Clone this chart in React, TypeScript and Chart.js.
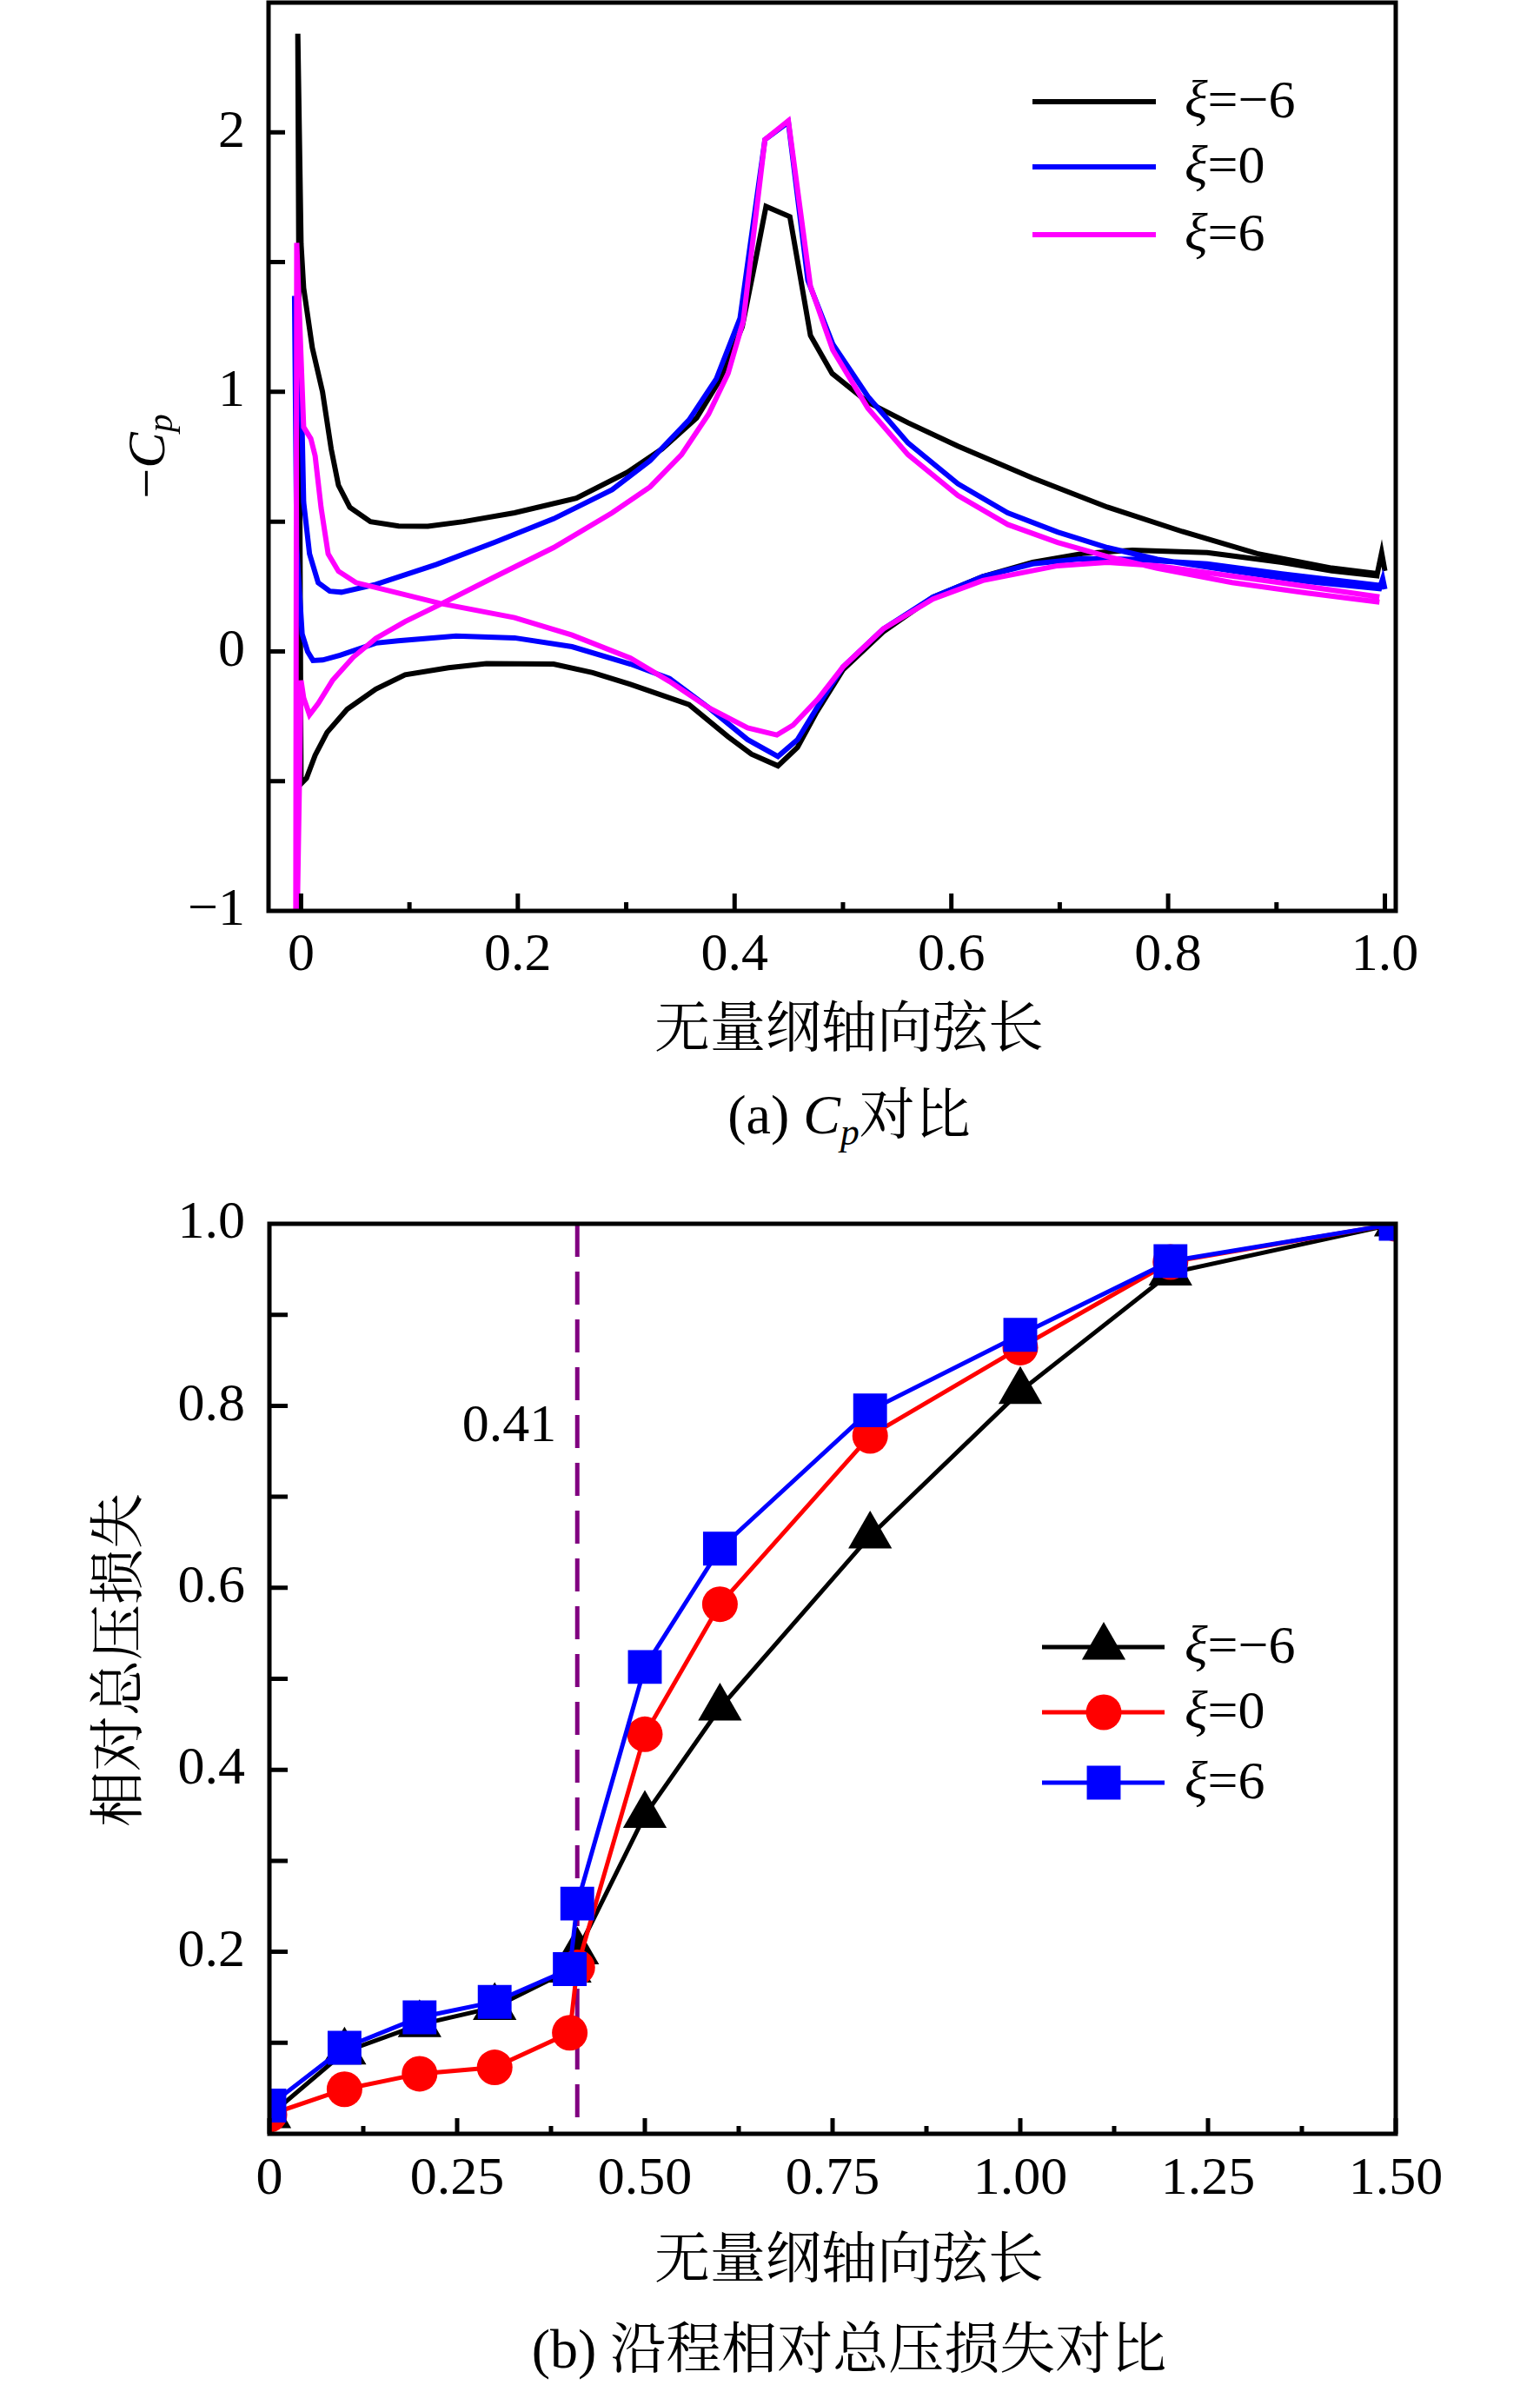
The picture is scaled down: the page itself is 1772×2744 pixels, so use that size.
import React, { useEffect, useRef } from 'react';
import { Chart, registerables } from 'chart.js';

Chart.register(...registerables);

const SERIF = '"Liberation Serif", "Times New Roman", "Noto Serif CJK SC", "Noto Sans CJK SC", serif';

// ---------------- Chart (a): Cp distributions ----------------
const seriesNames = ['−6', '0', '6'];

// ξ = −6 (black)
const cpNeg6Suction: number[][] = [
  [-0.003, 2.38], [0.0, 1.57], [0.0024, 1.4], [0.0104, 1.17], [0.0198, 1.0], [0.0278, 0.78],
  [0.0345, 0.64], [0.045, 0.555], [0.064, 0.5], [0.09, 0.483], [0.117, 0.482], [0.15, 0.5],
  [0.197, 0.534], [0.254, 0.59], [0.301, 0.69], [0.333, 0.78], [0.365, 0.9], [0.387, 1.05],
  [0.407, 1.25], [0.419, 1.5], [0.429, 1.715], [0.451, 1.675], [0.47, 1.217], [0.49, 1.071],
  [0.523, 0.96], [0.56, 0.881], [0.606, 0.791], [0.675, 0.668], [0.744, 0.556], [0.813, 0.462],
  [0.882, 0.377], [0.951, 0.321], [0.993, 0.3], [0.997, 0.38], [1.0, 0.31],
];
const cpNeg6Pressure: number[][] = [
  [0.0, -0.51], [0.005, -0.489], [0.013, -0.4], [0.024, -0.312], [0.0425, -0.223], [0.069, -0.145],
  [0.096, -0.09], [0.136, -0.063], [0.171, -0.047], [0.233, -0.049], [0.269, -0.082], [0.304, -0.127],
  [0.358, -0.205], [0.394, -0.329], [0.4156, -0.396], [0.44, -0.441], [0.458, -0.37], [0.475, -0.239],
  [0.5, -0.071], [0.537, 0.075], [0.583, 0.209], [0.629, 0.288], [0.675, 0.343], [0.721, 0.377],
  [0.767, 0.39], [0.836, 0.381], [0.905, 0.343], [0.951, 0.31], [0.995, 0.29],
];

// ξ = 0 (blue)
const cpZeroSuction: number[][] = [
  [-0.006, 1.37], [0.001, 0.853], [0.0024, 0.575], [0.0078, 0.376], [0.0158, 0.265], [0.0265, 0.232],
  [0.0372, 0.228], [0.069, 0.258], [0.125, 0.335], [0.179, 0.421], [0.233, 0.511], [0.287, 0.623],
  [0.322, 0.735], [0.358, 0.892], [0.383, 1.049], [0.405, 1.284], [0.428, 1.972], [0.4496, 2.039],
  [0.4676, 1.43], [0.4906, 1.184], [0.523, 0.982], [0.56, 0.803], [0.606, 0.646], [0.652, 0.534],
  [0.698, 0.46], [0.744, 0.4], [0.79, 0.355], [0.859, 0.31], [0.928, 0.269], [0.995, 0.242],
  [0.998, 0.28], [1.0, 0.24],
];
const cpZeroPressure: number[][] = [
  [-0.004, 0.4], [0.001, 0.067], [0.006, 0.0], [0.011, -0.035], [0.02, -0.033], [0.036, -0.015],
  [0.069, 0.032], [0.0895, 0.041], [0.143, 0.059], [0.197, 0.052], [0.25, 0.018], [0.304, -0.049],
  [0.34, -0.105], [0.376, -0.217], [0.412, -0.34], [0.44, -0.405], [0.458, -0.34], [0.481, -0.183],
  [0.5, -0.06], [0.537, 0.086], [0.583, 0.209], [0.629, 0.288], [0.675, 0.337], [0.721, 0.357],
  [0.767, 0.355], [0.836, 0.337], [0.905, 0.299], [0.995, 0.254],
];

// ξ = 6 (magenta)
const cpSixSuction: number[][] = [
  [-0.005, -1.4], [0.0, -0.112], [0.0024, -0.179], [0.0078, -0.245], [0.016, -0.2], [0.029, -0.112],
  [0.048, -0.023], [0.069, 0.05], [0.096, 0.115], [0.128, 0.18], [0.179, 0.288], [0.233, 0.4],
  [0.287, 0.534], [0.322, 0.634], [0.351, 0.758], [0.376, 0.914], [0.394, 1.071], [0.408, 1.273],
  [0.428, 1.972], [0.4496, 2.045], [0.47, 1.407], [0.4906, 1.161], [0.523, 0.937], [0.56, 0.758],
  [0.606, 0.601], [0.652, 0.489], [0.698, 0.42], [0.744, 0.365], [0.79, 0.32], [0.859, 0.265],
  [0.928, 0.225], [0.995, 0.19],
];
const cpSixPressure: number[][] = [
  [-0.004, 1.574], [0.0024, 0.864], [0.009, 0.82], [0.013, 0.753], [0.0185, 0.553], [0.025, 0.376],
  [0.0345, 0.309], [0.0506, 0.265], [0.0827, 0.232], [0.128, 0.185], [0.197, 0.13], [0.25, 0.063],
  [0.304, -0.026], [0.34, -0.116], [0.376, -0.217], [0.412, -0.295], [0.439, -0.322], [0.454, -0.284],
  [0.477, -0.183], [0.5, -0.06], [0.537, 0.086], [0.583, 0.202], [0.629, 0.273], [0.698, 0.33],
  [0.744, 0.343], [0.79, 0.33], [0.859, 0.29], [0.928, 0.25], [0.995, 0.21],
];

const cpXTicks = [0, 0.2, 0.4, 0.6, 0.8, 1.0];
const cpXTickLabels = ['0', '0.2', '0.4', '0.6', '0.8', '1.0'];
const cpXMinor = [0.1, 0.3, 0.5, 0.7, 0.9];
const cpYTicks = [-1, 0, 1, 2];
const cpYTickLabels = ['−1', '0', '1', '2'];
const cpYMarks = [-0.5, 0, 0.5, 1, 1.5, 2];

// ---------------- Chart (b): relative total pressure loss ----------------
const lossX = [0, 0.1, 0.2, 0.3, 0.4, 0.41, 0.5, 0.6, 0.8, 1.0, 1.2, 1.5];
const lossNeg6 = [0.02, 0.09, 0.12, 0.139, 0.18, 0.2, 0.35, 0.468, 0.657, 0.816, 0.946, 1.0];
const loss0 = [0.021, 0.049, 0.066, 0.073, 0.111, 0.183, 0.439, 0.582, 0.767, 0.864, 0.958, 1.0];
const loss6 = [0.031, 0.0945, 0.128, 0.145, 0.181, 0.253, 0.513, 0.643, 0.795, 0.878, 0.959, 1.0];
const markLineX = 0.41;
const markLineLabel = '0.41';

const lossXTicks = [0, 0.25, 0.5, 0.75, 1.0, 1.25, 1.5];
const lossXTickLabels = ['0', '0.25', '0.50', '0.75', '1.00', '1.25', '1.50'];
const lossXMinor = [0.125, 0.375, 0.625, 0.875, 1.125, 1.375];
const lossYTicks = [0.2, 0.4, 0.6, 0.8, 1.0];
const lossYTickLabels = ['0.2', '0.4', '0.6', '0.8', '1.0'];
const lossYMarks = [0.1, 0.2, 0.3, 0.4, 0.5, 0.6, 0.7, 0.8, 0.9];

// ---------------- helpers ----------------
const loopPath = (suction: number[][], pressure: number[][]) =>
  [...suction.slice().reverse(), ...pressure].map(([x, y]) => ({ x, y }));

type Part = { t: string; size: number; italic?: boolean; dy?: number };
function fontOf(p: Part) {
  return `${p.italic ? 'italic ' : ''}${p.size}px ${SERIF}`;
}
function drawRich(ctx: CanvasRenderingContext2D, parts: Part[], x: number, y: number, align: 'left' | 'center' | 'right') {
  ctx.textBaseline = 'middle';
  ctx.textAlign = 'left';
  const widths = parts.map((p) => {
    ctx.font = fontOf(p);
    return ctx.measureText(p.t).width;
  });
  const total = widths.reduce((a, b) => a + b, 0);
  let cx = align === 'center' ? x - total / 2 : align === 'right' ? x - total : x;
  parts.forEach((p, i) => {
    ctx.font = fontOf(p);
    ctx.fillText(p.t, cx, y + (p.dy || 0));
    cx += widths[i];
  });
}
function drawMarker(ctx: CanvasRenderingContext2D, style: string, x: number, y: number, r: number, color: string) {
  ctx.fillStyle = color;
  ctx.beginPath();
  if (style === 'triangle') {
    const a = (2 * Math.PI) / 3;
    ctx.moveTo(x, y - r);
    ctx.lineTo(x + Math.sin(a) * r, y - Math.cos(a) * r);
    ctx.lineTo(x + Math.sin(2 * a) * r, y - Math.cos(2 * a) * r);
  } else if (style === 'circle') {
    ctx.arc(x, y, r, 0, Math.PI * 2);
  } else {
    const s = r * Math.SQRT1_2;
    ctx.rect(x - s, y - s, 2 * s, 2 * s);
  }
  ctx.closePath();
  ctx.fill();
}

function framePlugin(o: { xMajor: number[]; xMinor: number[]; yMarks: number[]; xMajorLen: number; xMinorLen: number; yLen: number }) {
  return {
    id: 'frameTicks',
    afterDraw(chart: any) {
      const { ctx, chartArea: a } = chart;
      const xs = chart.scales.x;
      const ys = chart.scales.y;
      ctx.save();
      ctx.strokeStyle = '#000';
      ctx.lineWidth = 5;
      ctx.lineCap = 'butt';
      ctx.beginPath();
      o.xMajor.forEach((v) => {
        const p = xs.getPixelForValue(v);
        ctx.moveTo(p, a.bottom);
        ctx.lineTo(p, a.bottom - o.xMajorLen);
      });
      o.xMinor.forEach((v) => {
        const p = xs.getPixelForValue(v);
        ctx.moveTo(p, a.bottom);
        ctx.lineTo(p, a.bottom - o.xMinorLen);
      });
      o.yMarks.forEach((v) => {
        const p = ys.getPixelForValue(v);
        ctx.moveTo(a.left, p);
        ctx.lineTo(a.left + o.yLen, p);
      });
      ctx.stroke();
      ctx.strokeRect(a.left, a.top, a.right - a.left, a.bottom - a.top);
      ctx.restore();
    },
  };
}

const tickFont = { family: SERIF, size: 62 };

function makeScale(min: number, max: number, values: number[], labels: string[], horizontal: boolean, size: number, padding: number) {
  return {
    type: 'linear',
    min,
    max,
    grid: { display: false, drawTicks: false },
    border: { display: false },
    afterBuildTicks: (s: any) => {
      s.ticks = values.map((v) => ({ value: v }));
    },
    afterFit: (s: any) => {
      if (horizontal) {
        s.height = size;
        s.paddingLeft = 0;
        s.paddingRight = 0;
      } else {
        s.width = size;
        s.paddingTop = 0;
        s.paddingBottom = 0;
      }
    },
    ticks: {
      autoSkip: false,
      maxRotation: 0,
      minRotation: 0,
      padding,
      color: '#000',
      font: tickFont,
      callback: (v: number) => {
        const i = values.findIndex((t) => Math.abs(t - v) < 1e-9);
        return i >= 0 ? labels[i] : '';
      },
    },
  };
}

export default function App() {
  const refA = useRef<HTMLCanvasElement>(null);
  const refB = useRef<HTMLCanvasElement>(null);

  useEffect(() => {
    const cpColors = ['#000000', '#0000ff', '#ff00ff'];
    const cpPaths = [
      loopPath(cpNeg6Suction, cpNeg6Pressure),
      loopPath(cpZeroSuction, cpZeroPressure),
      loopPath(cpSixSuction, cpSixPressure),
    ];

    const legendA = {
      id: 'legendA',
      afterDraw(chart: any) {
        const { ctx } = chart;
        ctx.save();
        const rows = [117, 192, 270];
        rows.forEach((y, i) => {
          ctx.strokeStyle = cpColors[i];
          ctx.lineWidth = 6;
          ctx.beginPath();
          ctx.moveTo(1188, y);
          ctx.lineTo(1330, y);
          ctx.stroke();
          ctx.fillStyle = '#000';
          drawRich(ctx, [{ t: 'ξ', size: 62, italic: true }, { t: '=' + seriesNames[i], size: 62 }], 1363, y + 2, 'left');
        });
        // axis titles
        ctx.fillStyle = '#000';
        drawRich(ctx, [{ t: '无量纲轴向弦长', size: 64 }], 977, 1187, 'center');
        ctx.translate(173, 525);
        ctx.rotate(-Math.PI / 2);
        drawRich(
          ctx,
          [
            { t: '−', size: 62 },
            { t: 'C', size: 62, italic: true },
            { t: 'p', size: 42, italic: true, dy: 14 },
          ],
          0,
          0,
          'center'
        );
        ctx.restore();
      },
    };

    const chartA = new Chart(refA.current!, {
      type: 'scatter',
      data: {
        datasets: [2, 1, 0].map((i) => ({
          label: 'ξ=' + seriesNames[i],
          data: cpPaths[i],
          showLine: true,
          borderColor: cpColors[i],
          backgroundColor: cpColors[i],
          borderWidth: 6,
          pointRadius: 0,
          tension: 0,
          clip: 0,
          order: 2 - i,
        })),
      },
      options: {
        responsive: false,
        animation: false,
        devicePixelRatio: 1,
        layout: { padding: { top: 3, right: 166, left: 0, bottom: 0 } },
        plugins: { legend: { display: false }, tooltip: { enabled: false } },
        scales: {
          x: makeScale(-0.03, 1.01, cpXTicks, cpXTickLabels, true, 192, 15),
          y: makeScale(-1, 2.5, cpYTicks, cpYTickLabels, false, 309, 27),
        },
      } as any,
      plugins: [
        framePlugin({ xMajor: cpXTicks, xMinor: cpXMinor, yMarks: cpYMarks, xMajorLen: 20, xMinorLen: 10, yLen: 19 }),
        legendA,
      ],
    } as any);

    const lossColors = ['#000000', '#ff0000', '#0000ff'];
    const lossStyles = ['triangle', 'circle', 'rect'];
    const lossRadius = [29, 20.5, 27.5];
    const lossSeries = [lossNeg6, loss0, loss6];

    const legendB = {
      id: 'legendB',
      afterDraw(chart: any) {
        const { ctx } = chart;
        const xs = chart.scales.x;
        const ys = chart.scales.y;
        ctx.save();
        const rows = [565, 640, 721];
        rows.forEach((y, i) => {
          ctx.strokeStyle = lossColors[i];
          ctx.lineWidth = 5;
          ctx.beginPath();
          ctx.moveTo(1199, y);
          ctx.lineTo(1340, y);
          ctx.stroke();
          drawMarker(ctx, lossStyles[i], 1270, y, lossRadius[i], lossColors[i]);
          ctx.fillStyle = '#000';
          drawRich(ctx, [{ t: 'ξ', size: 62, italic: true }, { t: '=' + seriesNames[i], size: 62 }], 1363, y + 2, 'left');
        });
        ctx.fillStyle = '#000';
        drawRich(ctx, [{ t: markLineLabel, size: 62 }], xs.getPixelForValue(markLineX) - 24, ys.getPixelForValue(0.777), 'right');
        drawRich(ctx, [{ t: '无量纲轴向弦长', size: 64 }], 977, 1273, 'center');
        ctx.translate(140, 580);
        ctx.rotate(-Math.PI / 2);
        drawRich(ctx, [{ t: '相对总压损失', size: 64 }], 0, 0, 'center');
        ctx.restore();
      },
    };

    const chartB = new Chart(refB.current!, {
      type: 'scatter',
      data: {
        datasets: [
          ...[2, 1, 0].map((i) => ({
            label: 'ξ=' + seriesNames[i],
            data: lossX.map((x, k) => ({ x, y: lossSeries[i][k] })),
            showLine: true,
            borderColor: lossColors[i],
            backgroundColor: lossColors[i],
            pointBackgroundColor: lossColors[i],
            pointBorderColor: lossColors[i],
            pointBorderWidth: 0,
            borderWidth: 5,
            pointStyle: lossStyles[i],
            pointRadius: lossRadius[i],
            tension: 0,
            clip: 0,
            order: 2 - i,
          })),
          {
            label: 'mark',
            data: [
              { x: markLineX, y: 1 },
              { x: markLineX, y: 0 },
            ],
            showLine: true,
            borderColor: '#800080',
            borderWidth: 5,
            borderDash: [38, 17],
            pointRadius: 0,
            clip: 0,
            order: 5,
          },
        ],
      },
      options: {
        responsive: false,
        animation: false,
        devicePixelRatio: 1,
        layout: { padding: { top: 78, right: 166, left: 0, bottom: 0 } },
        plugins: { legend: { display: false }, tooltip: { enabled: false } },
        scales: {
          x: makeScale(0, 1.5, lossXTicks, lossXTickLabels, true, 205, 16),
          y: makeScale(0, 1, lossYTicks, lossYTickLabels, false, 310, 28),
        },
      } as any,
      plugins: [
        framePlugin({ xMajor: lossXTicks, xMinor: lossXMinor, yMarks: lossYMarks, xMajorLen: 18, xMinorLen: 9, yLen: 21 }),
        legendB,
      ],
    } as any);

    return () => {
      chartA.destroy();
      chartB.destroy();
    };
  }, []);

  const caption = (cy: number): React.CSSProperties => ({
    position: 'absolute',
    left: 0,
    width: 1954,
    top: cy - 36,
    height: 72,
    lineHeight: '72px',
    textAlign: 'center',
    fontSize: 64,
    fontFamily: SERIF,
    color: '#000',
    whiteSpace: 'nowrap',
  });

  return (
    <div style={{ position: 'absolute', left: 0, top: 0, width: 1772, height: 2744, background: '#fff', overflow: 'hidden' }}>
      <canvas ref={refA} width={1772} height={1240} style={{ position: 'absolute', left: 0, top: 0, width: 1772, height: 1240 }} />
      <div style={caption(1283)}>
        (a) <i>C</i>
        <sub style={{ fontStyle: 'italic', fontSize: '0.68em', verticalAlign: '-0.3em' }}>p</sub>对比
      </div>
      <canvas ref={refB} width={1772} height={1330} style={{ position: 'absolute', left: 0, top: 1330, width: 1772, height: 1330 }} />
      <div style={caption(2703)}>(b) 沿程相对总压损失对比</div>
    </div>
  );
}
